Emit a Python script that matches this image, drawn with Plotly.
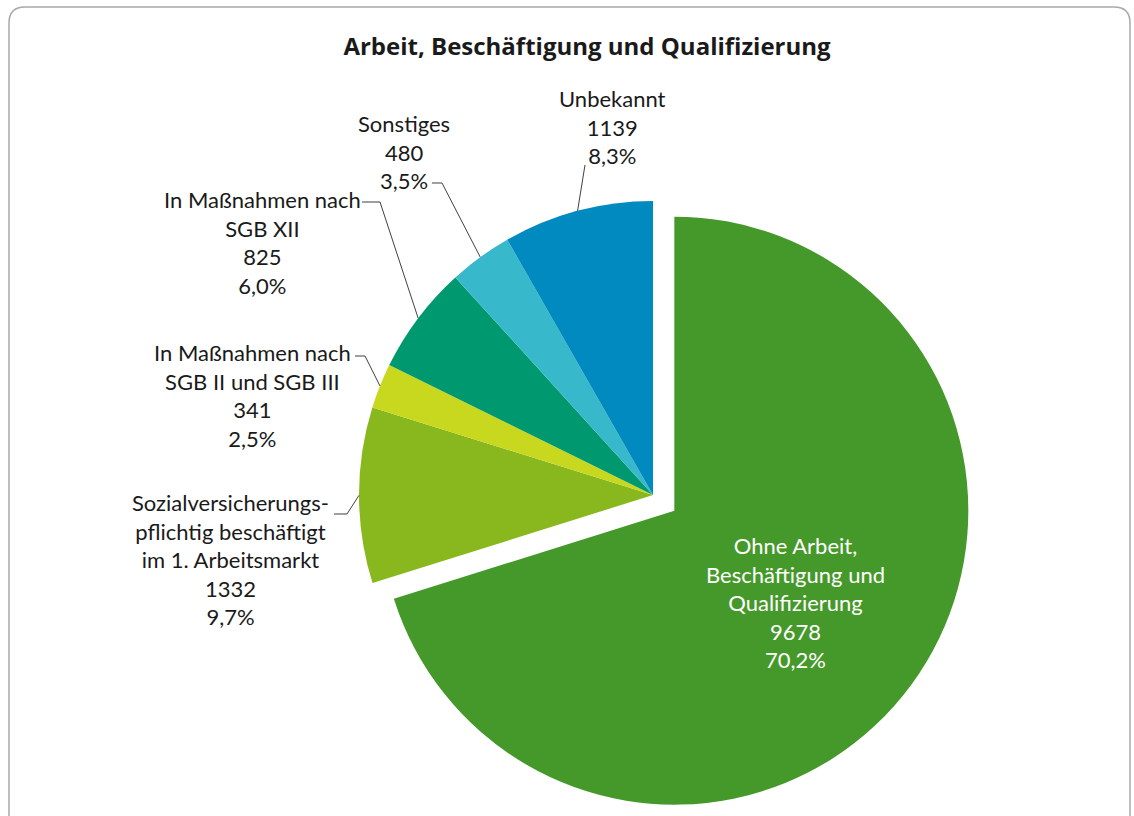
import math
import plotly.graph_objects as go

# ---------------- data ----------------
categories = [
    "Ohne Arbeit, Beschäftigung und Qualifizierung",
    "Sozialversicherungspflichtig beschäftigt im 1. Arbeitsmarkt",
    "In Maßnahmen nach SGB II und SGB III",
    "In Maßnahmen nach SGB XII",
    "Sonstiges",
    "Unbekannt",
]
label_lines = [
    "Ohne Arbeit,<br>Beschäftigung und<br>Qualifizierung",
    "Sozialversicherungs-<br>pflichtig beschäftigt<br>im 1. Arbeitsmarkt",
    "In Maßnahmen nach<br>SGB II und SGB III",
    "In Maßnahmen nach<br>SGB XII",
    "Sonstiges",
    "Unbekannt",
]
values = [9678, 1332, 341, 825, 480, 1139]
colors = ["#45992a", "#88b81e", "#c8d81f", "#00986f", "#38b8cb", "#008abf"]
pulls = [0.09, 0, 0, 0, 0, 0]

# ---------------- layout constants (pixels) ----------------
W, H = 1134, 816
CX, CY, R = 653, 495, 294          # pie centre / radius in pixels
HALF = R * (1 + max(pulls))         # half size of the pie domain box


def px(x):
    return x / W


def py(y):
    return 1 - y / H


# label text centres and leader-line start/elbow points (pixels)
label_pos = {
    0: (795, 602),
    1: (230, 559),
    2: (252, 395),
    3: (262, 242),
    4: (404, 152),
    5: (612, 127),
}
leader = {
    1: [(334, 514), (347, 514)],
    2: [(355, 356), (365, 356)],
    3: [(362, 202), (380, 202)],
    4: [(432, 183), (442, 183)],
    5: [(585, 165)],
}

total = sum(values)

fig = go.Figure(
    go.Pie(
        labels=categories,
        values=values,
        sort=False,
        direction="clockwise",
        rotation=0,
        pull=pulls,
        marker=dict(colors=colors, line=dict(width=0)),
        textinfo="none",
        hoverinfo="label+value+percent",
        showlegend=False,
        domain=dict(
            x=[px(CX - HALF), px(CX + HALF)],
            y=[max(0, py(CY + HALF)), py(CY - HALF)],
        ),
    )
)

annotations = []
shapes = []

# slice mid-angles from data
cum = 0
for i, v in enumerate(values):
    frac = v / total
    mid = (cum + frac / 2) * 2 * math.pi
    cum += frac
    pct = f"{frac * 100:.1f}".replace(".", ",") + "%"
    text = f"{label_lines[i]}<br>{v}<br>{pct}"
    lx, ly = label_pos[i]
    annotations.append(
        dict(
            x=px(lx), y=py(ly), xref="paper", yref="paper",
            text=text, showarrow=False, align="center",
            xanchor="center", yanchor="middle",
            font=dict(family="Lato, Open Sans, sans-serif", size=22,
                      color="#ffffff" if i == 0 else "#1a1a1a"),
        )
    )
    if i in leader:
        ex = CX + R * math.sin(mid)
        ey = CY - R * math.cos(mid)
        pts = leader[i] + [(ex, ey)]
        path = "M " + " L ".join(f"{px(x):.5f},{py(y):.5f}" for x, y in pts)
        shapes.append(dict(type="path", path=path, xref="paper", yref="paper",
                           line=dict(color="#404040", width=1)))

# rounded frame
fx0, fx1, fy0, rr = 9, 1130, 7, 16
frame = (
    f"M {px(fx0)},{py(830)} L {px(fx0)},{py(fy0 + rr)} "
    f"Q {px(fx0)},{py(fy0)} {px(fx0 + rr)},{py(fy0)} "
    f"L {px(fx1 - rr)},{py(fy0)} "
    f"Q {px(fx1)},{py(fy0)} {px(fx1)},{py(fy0 + rr)} "
    f"L {px(fx1)},{py(830)}"
)
shapes.append(dict(type="path", path=frame, xref="paper", yref="paper",
                   line=dict(color="#a9a9a9", width=1.5)))

fig.update_layout(
    width=W, height=H,
    margin=dict(l=0, r=0, t=0, b=0),
    paper_bgcolor="white", plot_bgcolor="white",
    separators=",.",
    title=dict(
        text="<b>Arbeit, Beschäftigung und Qualifizierung</b>",
        x=px(587), y=py(47), xanchor="center", yanchor="middle",
        font=dict(family="Open Sans, Lato, sans-serif", size=24, color="#1a1a1a"),
    ),
    annotations=annotations,
    shapes=shapes,
)

fig.write_html(
    "out.html",
    config={"displayModeBar": False},
    post_script="document.body.style.margin='0';document.body.style.overflow='hidden';",
)
